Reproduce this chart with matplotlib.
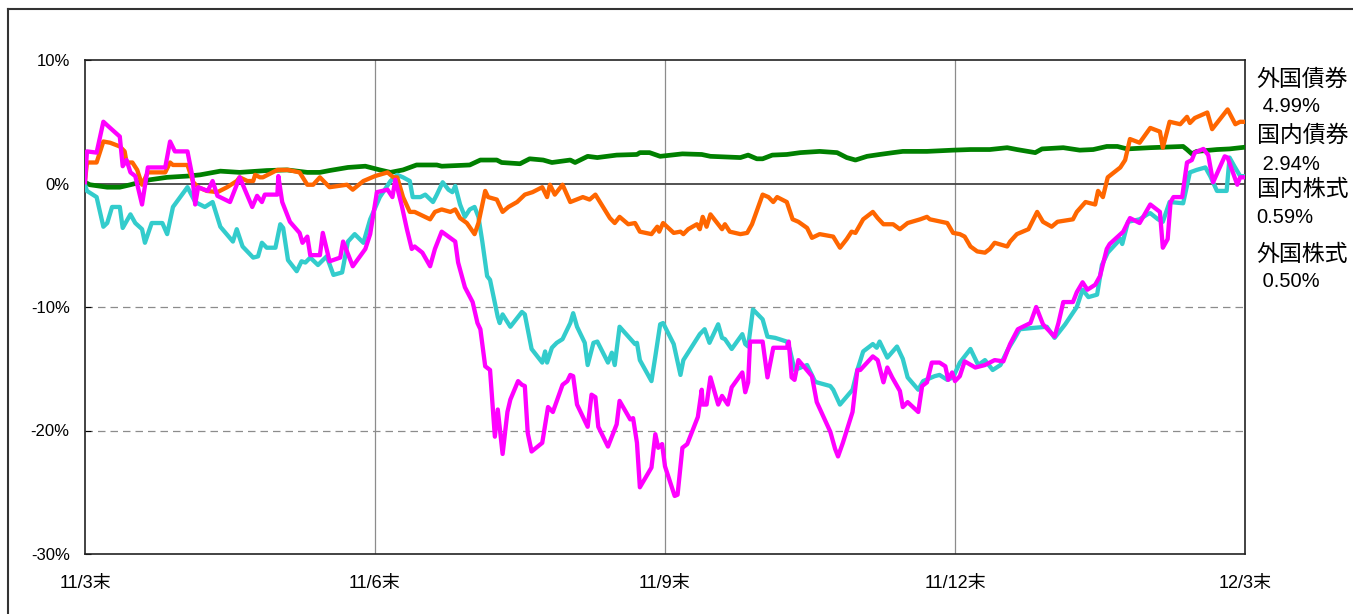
import matplotlib
matplotlib.use('Agg')
import matplotlib.pyplot as plt
from matplotlib.lines import Line2D

plt.rcParams['font.family'] = ['Liberation Sans', 'Noto Sans CJK JP', 'DejaVu Sans']

# months elapsed since 2011/3末, cumulative return in %
# 外国債券
fb_t = [0.00, 0.02, 0.12, 0.19, 0.26, 0.36, 0.41, 0.43, 0.49, 0.54, 0.59, 0.65, 0.83, 0.88, 0.91,
        1.06, 1.12, 1.17, 1.26, 1.37, 1.47, 1.57, 1.60, 1.68, 1.74, 1.76, 1.81, 1.84, 1.99, 2.10,
        2.22, 2.30, 2.36, 2.43, 2.53, 2.71, 2.77, 2.88, 3.00, 3.13, 3.19, 3.23, 3.29, 3.36, 3.41,
        3.57, 3.62, 3.69, 3.78, 3.83, 3.88, 3.95, 4.03, 4.07, 4.14, 4.17, 4.26, 4.32, 4.38, 4.47,
        4.55, 4.63, 4.73, 4.78, 4.81, 4.86, 4.94, 5.02, 5.15, 5.22, 5.28, 5.43, 5.48, 5.53, 5.62,
        5.69, 5.74, 5.86, 5.92, 5.94, 5.98, 6.09, 6.16, 6.19, 6.24, 6.33, 6.36, 6.39, 6.43, 6.47,
        6.59, 6.62, 6.67, 6.78, 6.85, 6.90, 7.01, 7.07, 7.12, 7.16, 7.26, 7.32, 7.38, 7.47, 7.52,
        7.60, 7.74, 7.81, 7.88, 7.93, 7.97, 8.05, 8.15, 8.20, 8.26, 8.36, 8.43, 8.51, 8.64, 8.71,
        8.74, 8.92, 8.98, 9.05, 9.10, 9.16, 9.23, 9.31, 9.36, 9.41, 9.54, 9.57, 9.64, 9.76, 9.85,
        9.91, 10.00, 10.06, 10.22, 10.26, 10.35, 10.45, 10.48, 10.53, 10.58, 10.71, 10.76, 10.81,
        10.91, 11.02, 11.12, 11.15, 11.22, 11.33, 11.40, 11.43, 11.48, 11.61, 11.66, 11.82, 11.90,
        11.95, 12.00]
fb_v = [0.2, 1.7, 1.7, 3.4, 3.3, 3.0, 2.6, 1.7, 1.7, 1.1, -0.1, 0.9, 0.9, 1.7, 1.5,
        1.5, 0.1, -0.3, -0.6, -0.7, -0.3, 0.2, 0.5, 0.2, 0.2, 0.7, 0.5, 0.5, 1.1, 1.1,
        0.9, -0.1, -0.1, 0.5, -0.3, -0.1, -0.5, 0.2, 0.6, 0.9, 0.5, 0.5, -1.1, -2.3, -2.3,
        -2.9, -2.3, -2.1, -2.3, -2.1, -2.8, -3.2, -4.1, -3.2, -0.6, -1.1, -1.3, -2.3, -1.9, -1.5,
        -0.9, -0.7, -0.3, -1.1, -0.1, -0.9, -0.1, -1.5, -1.1, -1.3, -0.9, -2.8, -3.2, -2.7, -3.3,
        -3.2, -3.9, -4.1, -3.5, -3.9, -3.2, -4.0, -3.9, -4.1, -3.7, -3.3, -3.7, -2.7, -3.5, -2.5,
        -3.7, -3.3, -3.9, -4.1, -4.0, -3.3, -0.9, -1.1, -1.5, -1.1, -1.5, -2.9, -3.1, -3.6, -4.4,
        -4.1, -4.3, -5.2, -4.5, -3.9, -4.0, -2.9, -2.3, -2.8, -3.3, -3.3, -3.7, -3.2, -2.9, -2.7,
        -2.9, -3.2, -4.0, -4.1, -4.3, -5.1, -5.5, -5.6, -5.3, -4.8, -5.1, -4.7, -4.1, -3.7, -2.3,
        -3.1, -3.5, -3.1, -2.9, -2.3, -1.5, -1.7, -0.6, -1.1, 0.5, 1.3, 1.9, 3.6,
        3.3, 4.5, 4.2, 2.9, 5.0, 4.8, 5.4, 4.9, 5.3, 5.75, 4.4, 6.0, 4.8,
        5.0, 4.99]

# 国内債券
db_t = [0.00, 0.05, 0.23, 0.36, 0.47, 0.67, 0.85, 1.06, 1.19, 1.40, 1.60, 1.88, 2.09, 2.30, 2.43,
        2.53, 2.72, 2.90, 3.05, 3.16, 3.29, 3.43, 3.64, 3.69, 3.98, 4.09, 4.26, 4.31, 4.50, 4.60,
        4.74, 4.83, 5.02, 5.07, 5.20, 5.30, 5.50, 5.71, 5.74, 5.84, 5.95, 6.18, 6.38, 6.47, 6.78,
        6.86, 6.95, 7.01, 7.11, 7.26, 7.40, 7.60, 7.78, 7.88, 7.97, 8.09, 8.22, 8.36, 8.46, 8.71,
        8.98, 9.16, 9.36, 9.54, 9.64, 9.83, 9.90, 10.12, 10.29, 10.43, 10.57, 10.68, 10.78, 11.02,
        11.36, 11.40, 11.45, 11.50, 11.71, 11.84, 12.00]
db_v = [0.1, -0.1, -0.3, -0.3, -0.1, 0.3, 0.5, 0.6, 0.7, 1.0, 0.9, 1.05, 1.1, 0.9, 0.9,
        1.05, 1.3, 1.4, 1.1, 0.9, 1.1, 1.5, 1.5, 1.4, 1.5, 1.9, 1.9, 1.7, 1.6, 2.0,
        1.9, 1.7, 1.9, 1.7, 2.2, 2.1, 2.3, 2.35, 2.5, 2.5, 2.2, 2.4, 2.35, 2.2, 2.1,
        2.3, 2.0, 2.0, 2.3, 2.35, 2.5, 2.6, 2.5, 2.1, 1.9, 2.2, 2.35, 2.5, 2.6, 2.6,
        2.7, 2.75, 2.75, 2.9, 2.75, 2.5, 2.8, 2.9, 2.7, 2.75, 3.0, 3.0, 2.8, 2.9,
        3.0, 2.75, 2.4, 2.6, 2.75, 2.8, 2.94]

# 国内株式
dj_t = [0.00, 0.02, 0.12, 0.19, 0.23, 0.28, 0.36, 0.39, 0.47, 0.52, 0.59, 0.62, 0.69, 0.80, 0.85,
        0.91, 1.06, 1.14, 1.24, 1.32, 1.40, 1.53, 1.57, 1.63, 1.74, 1.79, 1.83, 1.88, 1.97, 2.02,
        2.05, 2.10, 2.19, 2.24, 2.28, 2.33, 2.41, 2.50, 2.57, 2.66, 2.72, 2.79, 2.88, 2.95, 3.05,
        3.16, 3.23, 3.29, 3.36, 3.39, 3.47, 3.52, 3.60, 3.64, 3.70, 3.76, 3.80, 3.83, 3.88, 3.93,
        3.98, 4.03, 4.07, 4.11, 4.16, 4.19, 4.27, 4.29, 4.32, 4.40, 4.52, 4.55, 4.62, 4.73, 4.76,
        4.78, 4.83, 4.88, 4.94, 4.99, 5.02, 5.05, 5.09, 5.17, 5.20, 5.26, 5.30, 5.41, 5.45, 5.48,
        5.53, 5.69, 5.71, 5.74, 5.86, 5.90, 5.95, 5.98, 6.09, 6.16, 6.19, 6.36, 6.41, 6.46, 6.55,
        6.59, 6.62, 6.69, 6.80, 6.83, 6.86, 6.91, 7.01, 7.06, 7.14, 7.26, 7.29, 7.34, 7.47, 7.55,
        7.57, 7.71, 7.74, 7.81, 7.94, 7.99, 8.05, 8.15, 8.19, 8.22, 8.30, 8.40, 8.46, 8.51, 8.62,
        8.67, 8.79, 8.84, 8.92, 8.98, 9.05, 9.10, 9.16, 9.24, 9.31, 9.39, 9.47, 9.55, 9.62, 9.67,
        9.80, 9.95, 10.03, 10.14, 10.26, 10.32, 10.38, 10.47, 10.52, 10.58, 10.71, 10.73, 10.79,
        10.91, 10.99, 11.02, 11.10, 11.15, 11.22, 11.36, 11.43, 11.50, 11.59, 11.64, 11.71, 11.81,
        11.84, 11.89, 11.95, 12.00]
dj_v = [-0.1, -0.6, -1.1, -3.5, -3.2, -1.9, -1.9, -3.6, -2.5, -3.2, -3.7, -4.8, -3.2, -3.2, -4.1,
        -1.9, -0.3, -1.5, -1.9, -1.5, -3.5, -4.7, -3.7, -5.1, -6.0, -5.9, -4.8, -5.2, -5.2, -3.3,
        -3.6, -6.2, -7.1, -6.3, -6.4, -6.0, -6.6, -5.9, -7.4, -7.2, -4.7, -4.1, -4.8, -2.9, -1.1,
        0.2, 0.7, 0.5, 0.2, -1.1, -1.1, -0.9, -1.5, -0.9, 0.1, -0.5, -0.7, -0.2, -1.7, -2.7,
        -2.1, -1.9, -2.7, -4.7, -7.5, -7.8, -10.8, -11.3, -10.6, -11.6, -10.4, -10.6, -13.4, -14.5, -13.6,
        -14.5, -13.3, -12.9, -12.6, -11.8, -11.3, -10.5, -11.6, -12.9, -14.7, -12.9, -12.8, -14.5, -13.7, -14.7,
        -11.6, -13.0, -12.9, -14.3, -16.0, -14.0, -11.4, -11.3, -13.0, -15.5, -14.3, -12.2, -11.8, -12.9, -11.4,
        -12.5, -12.6, -13.4, -12.2, -13.0, -13.2, -10.2, -11.0, -12.4, -12.5, -12.8, -13.4, -15.1, -14.7, -16.0,
        -16.1, -16.4, -16.7, -17.9, -16.7, -15.1, -13.6, -13.0, -13.3, -12.8, -14.1, -13.2, -14.2, -15.7, -16.7,
        -16.0, -15.6, -15.5, -15.9, -15.7, -14.5, -14.0, -13.4, -14.7, -14.3, -15.1, -14.7, -13.4, -12.5, -11.8,
        -11.7, -11.6, -12.5, -11.4, -10.0, -8.6, -9.2, -9.0, -6.6, -5.6, -4.5, -4.9, -3.1,
        -2.9, -2.5, -2.4, -2.9, -3.1, -1.5, -1.6, 0.9, 1.1, 1.3, 0.6, -0.6, -0.6,
        2.1, 1.4, 0.6, 0.59]

# 外国株式
fj_t = [0.00, 0.02, 0.12, 0.19, 0.26, 0.36, 0.39, 0.43, 0.47, 0.52, 0.59, 0.65, 0.83, 0.88, 0.93,
        1.06, 1.11, 1.14, 1.17, 1.27, 1.32, 1.37, 1.50, 1.60, 1.73, 1.78, 1.83, 1.86, 1.99, 2.00,
        2.04, 2.12, 2.22, 2.25, 2.30, 2.33, 2.43, 2.46, 2.53, 2.64, 2.67, 2.77, 2.90, 2.95, 3.02,
        3.13, 3.18, 3.21, 3.28, 3.33, 3.38, 3.41, 3.49, 3.57, 3.62, 3.69, 3.76, 3.83, 3.86, 3.93,
        4.01, 4.06, 4.09, 4.14, 4.19, 4.24, 4.27, 4.32, 4.37, 4.40, 4.48, 4.52, 4.55, 4.58, 4.62,
        4.73, 4.79, 4.84, 4.94, 4.99, 5.02, 5.05, 5.09, 5.20, 5.24, 5.28, 5.31, 5.41, 5.50, 5.53,
        5.64, 5.67, 5.71, 5.74, 5.86, 5.90, 5.93, 5.97, 6.00, 6.10, 6.13, 6.18, 6.23, 6.34, 6.38,
        6.39, 6.43, 6.47, 6.55, 6.59, 6.65, 6.69, 6.80, 6.83, 6.86, 6.88, 7.01, 7.06, 7.12, 7.26,
        7.28, 7.31, 7.34, 7.38, 7.52, 7.57, 7.71, 7.76, 7.79, 7.84, 7.94, 7.99, 8.02, 8.15, 8.20,
        8.26, 8.30, 8.35, 8.43, 8.46, 8.51, 8.62, 8.66, 8.71, 8.76, 8.84, 8.90, 8.93, 8.97, 9.00,
        9.05, 9.10, 9.21, 9.31, 9.41, 9.50, 9.57, 9.65, 9.78, 9.84, 9.91, 10.03, 10.07, 10.12,
        10.22, 10.26, 10.32, 10.37, 10.45, 10.50, 10.57, 10.60, 10.74, 10.81, 10.91, 11.02, 11.12,
        11.15, 11.20, 11.23, 11.26, 11.35, 11.40, 11.45, 11.48, 11.57, 11.62, 11.67, 11.79, 11.82,
        11.92, 11.95, 12.00]
fj_v = [0.1, 2.6, 2.5, 5.0, 4.5, 3.8, 1.4, 1.9, 0.9, 0.6, -1.7, 1.3, 1.3, 3.4, 2.6,
        2.6, 0.6, -1.7, -0.3, -0.6, 0.2, -1.0, -1.5, 0.5, -1.9, -1.0, -1.5, -0.9, -0.9, 0.6,
        -1.5, -3.1, -4.0, -4.8, -4.3, -5.8, -5.8, -4.0, -6.3, -6.0, -4.7, -6.7, -5.3, -4.1, -0.7,
        -0.5, -1.1, 0.3, -1.9, -3.7, -5.3, -5.1, -5.6, -6.7, -5.3, -3.9, -4.3, -4.7, -6.4, -8.4,
        -9.6, -11.3, -11.8, -14.8, -15.1, -20.5, -18.3, -21.9, -18.5, -17.5, -16.0, -16.3, -16.4, -20.2, -21.7,
        -21.0, -18.1, -18.5, -16.3, -16.0, -15.5, -15.6, -17.9, -19.7, -17.1, -17.3, -19.7, -21.3, -19.5, -17.6,
        -19.1, -19.0, -21.0, -24.6, -23.0, -20.3, -21.4, -21.1, -22.9, -25.3, -25.2, -21.4, -21.1, -18.9, -16.7,
        -17.9, -17.9, -15.7, -17.9, -17.2, -17.9, -16.5, -15.3, -16.9, -16.1, -12.8, -12.8, -15.7, -13.3, -13.3,
        -12.8, -15.7, -15.9, -14.3, -15.6, -17.7, -20.1, -21.5, -22.1, -21.0, -18.5, -15.1, -15.1, -14.0, -14.3,
        -16.1, -14.9, -15.7, -16.8, -18.1, -17.7, -18.5, -16.4, -16.1, -14.5, -14.5, -14.8, -15.9, -15.3, -16.0,
        -15.6, -14.4, -14.9, -14.7, -14.3, -14.4, -13.0, -11.8, -11.3, -10.0, -11.4, -12.4, -11.3, -9.6,
        -9.6, -8.8, -8.0, -8.6, -8.2, -7.5, -5.3, -4.9, -3.9, -2.8, -3.2, -1.7, -2.3,
        -5.2, -4.5, -1.5, -1.1, -1.1, 1.7, 1.9, 2.5, 2.8, 2.3, 0.1, 2.2, 2.1,
        -0.1, 0.5, 0.5]

tick_pos = [0, 3, 6, 9, 12]
tick_labels = ['11/3末', '11/6末', '11/9末', '11/12末', '12/3末']

names = ['外国債券', '国内債券', '国内株式', '外国株式']
end_labels = [' 4.99%', ' 2.94%', '0.59%', ' 0.50%']

fig = plt.figure(figsize=(13.53, 6.14), dpi=100)
ax = fig.add_axes([85 / 1353, 60 / 614, 1160 / 1353, 494 / 614])

# outer frame (left and top edges visible)
fig.add_artist(Line2D([8 / 1353, 8 / 1353], [0, 1 - 9 / 614], color='#333333', lw=1.5))
fig.add_artist(Line2D([8 / 1353, 1], [1 - 9 / 614, 1 - 9 / 614], color='#333333', lw=1.5))

ax.set_xlim(0, 12)
ax.set_ylim(-30, 10)

for x in [3, 6, 9]:
    ax.axvline(x, color='#8c8c8c', lw=0.9, zorder=1)
for y in [-10, -20]:
    ax.axhline(y, color='#8c8c8c', lw=0.9, ls=(0, (6, 4)), zorder=1)
ax.axhline(0, color='#444444', lw=1.3, zorder=1)

ax.plot(db_t, db_v, color='#008000', lw=3.4, zorder=3)
ax.plot(dj_t, dj_v, color='#33CCCC', lw=3.1, zorder=4)
ax.plot(fb_t, fb_v, color='#FF6600', lw=3.1, zorder=5)
ax.plot(fj_t, fj_v, color='#FF00FF', lw=3.1, zorder=6)

ax.set_xticks(tick_pos)
ax.set_xticklabels(tick_labels, fontsize=13)
ax.set_yticks([10, 0, -10, -20, -30])
ax.set_yticklabels(['10%', '0%', '-10%', '-20%', '-30%'], fontsize=12)
ax.tick_params(axis='x', length=0, pad=15)
ax.tick_params(axis='y', direction='in', length=4, pad=11)

for s in ax.spines.values():
    s.set_color('#222222')
    s.set_linewidth(1.2)

# right-hand labels
label_y = [8.42, 3.89, -0.49, -5.75]
value_y = [6.23, 1.54, -2.75, -7.94]
for n, v, ly, vy in zip(names, end_labels, label_y, value_y):
    ax.text(12.12, ly, n, fontsize=16.5, va='center', ha='left', clip_on=False)
    ax.text(12.12, vy, v, fontsize=14.5, va='center', ha='left', clip_on=False)

fig.savefig('out.png', dpi=100)
